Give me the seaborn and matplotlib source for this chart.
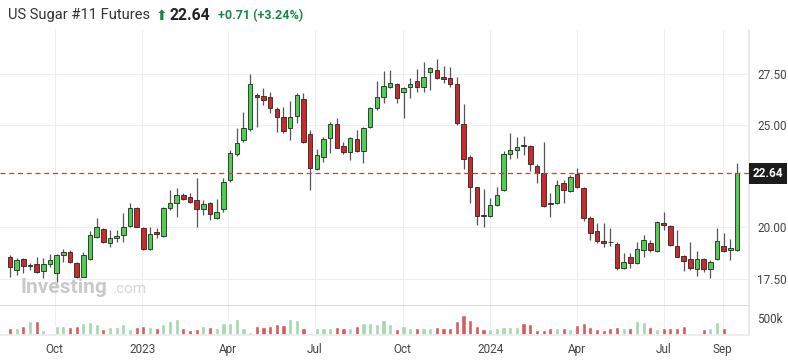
import matplotlib
matplotlib.use("Agg")
import matplotlib.pyplot as plt
import matplotlib.transforms as mtransforms
import seaborn as sns
import numpy as np
import pandas as pd

sns.set_theme(style="white")
plt.rcParams["font.family"] = ["Roboto", "DejaVu Sans"]

# weekly candles, US Sugar #11
first_week = "2022-08-15"
open_px = [18.54, 17.92, 18.45, 18.13, 18.20, 17.88, 18.20, 17.76, 18.64, 18.79,
           18.25, 17.60, 18.45, 19.52, 19.92, 19.23, 19.47, 19.63, 20.07, 20.93,
           19.96, 18.93, 19.79, 19.58, 20.96, 21.21, 21.58, 21.50, 21.34, 20.88,
           21.21, 20.48, 20.88, 22.31, 23.57, 24.27, 24.79, 26.46, 26.43, 26.35,
           25.76, 25.40, 24.84, 25.44, 26.27, 24.54, 22.84, 23.45, 24.35, 25.03,
           23.99, 23.67, 24.31, 23.73, 24.91, 25.84, 26.35, 26.87, 27.01, 26.59,
           26.84, 27.14, 26.87, 27.57, 27.68, 27.33, 27.28, 27.00, 25.05, 23.42,
           21.96, 20.58, 20.55, 21.09, 21.83, 23.58, 23.78, 24.00, 23.97, 22.99,
           22.67, 21.15, 21.18, 22.18, 21.79, 22.61, 21.91, 20.45, 19.84, 19.34,
           19.28, 19.18, 18.04, 18.57, 18.25, 18.90, 19.26, 18.87, 20.23, 20.09,
           19.09, 18.61, 18.46, 17.96, 18.46, 17.96, 18.46, 19.10, 18.90, 18.90]
high_px = [18.66, 18.50, 18.50, 18.28, 18.54, 18.52, 18.69, 18.70, 18.93, 18.90,
           18.33, 18.82, 19.83, 20.48, 19.99, 19.88, 19.88, 20.69, 21.18, 20.98,
           20.04, 20.04, 19.96, 21.01, 21.83, 21.91, 21.67, 21.67, 22.40, 21.34,
           21.26, 21.37, 22.40, 23.78, 24.84, 25.65, 27.49, 26.54, 26.79, 26.62,
           25.89, 25.89, 26.18, 26.54, 26.54, 24.75, 23.83, 24.43, 25.16, 25.35,
           24.15, 24.43, 24.75, 24.91, 25.89, 27.14, 27.63, 27.68, 27.03, 26.87,
           27.30, 27.73, 28.06, 27.84, 28.22, 27.88, 27.81, 27.32, 26.02, 23.53,
           21.99, 21.86, 21.42, 21.96, 23.74, 24.62, 24.43, 24.46, 24.02, 23.10,
           24.18, 21.67, 22.31, 22.31, 22.56, 22.88, 21.99, 20.55, 20.20, 20.20,
           19.96, 19.30, 18.74, 18.77, 19.30, 19.63, 19.39, 20.33, 20.77, 20.12,
           19.88, 18.66, 19.30, 18.87, 18.52, 18.41, 19.96, 19.71, 19.42, 23.13]
low_px = [17.60, 17.68, 17.76, 17.92, 17.79, 17.55, 18.09, 17.35, 18.33, 18.25,
          17.52, 17.57, 18.41, 19.47, 19.23, 19.06, 19.30, 19.30, 20.01, 20.00,
          18.90, 18.90, 19.47, 19.55, 20.85, 20.52, 21.34, 21.20, 20.04, 20.61,
          20.36, 20.40, 20.77, 22.23, 23.49, 24.18, 24.72, 24.91, 25.97, 25.57,
          24.67, 24.62, 24.27, 25.08, 24.10, 21.83, 22.80, 23.21, 23.62, 23.86,
          23.57, 23.29, 23.70, 23.13, 24.87, 25.73, 26.06, 26.79, 26.06, 25.32,
          26.30, 26.59, 26.59, 26.71, 27.24, 27.03, 26.87, 25.00, 22.84, 21.18,
          20.12, 20.01, 20.52, 21.06, 21.79, 23.32, 23.37, 23.53, 22.77, 22.15,
          21.01, 20.52, 21.14, 21.18, 21.74, 21.91, 20.33, 19.40, 19.23, 19.06,
          19.10, 17.92, 17.96, 18.01, 18.22, 18.57, 18.82, 18.82, 19.87, 19.09,
          18.54, 17.90, 17.92, 17.63, 17.84, 17.52, 18.41, 18.82, 18.41, 18.87]
close_px = [18.06, 18.41, 18.12, 18.14, 17.84, 18.20, 18.41, 18.64, 18.82, 18.33,
            17.57, 18.64, 19.62, 20.01, 19.28, 19.47, 19.58, 20.04, 20.93, 20.04,
            18.93, 19.70, 19.67, 20.96, 21.21, 21.58, 21.39, 21.26, 20.88, 21.14,
            20.64, 20.77, 22.23, 23.62, 24.10, 24.84, 27.00, 26.35, 26.22, 25.81,
            25.37, 24.72, 25.40, 26.46, 24.15, 22.89, 23.53, 24.31, 25.03, 23.89,
            23.67, 24.38, 23.73, 24.87, 25.84, 26.35, 26.91, 27.03, 26.30, 26.79,
            27.00, 26.87, 27.35, 27.79, 27.30, 27.23, 27.00, 25.11, 23.32, 21.96,
            20.57, 20.55, 21.09, 21.58, 23.58, 23.78, 23.91, 23.98, 23.10, 22.64,
            21.05, 21.14, 22.07, 21.83, 22.48, 21.96, 20.45, 19.74, 19.35, 19.23,
            19.27, 18.04, 18.33, 18.25, 18.93, 19.39, 18.90, 20.28, 20.12, 19.14,
            18.57, 18.38, 18.00, 18.45, 17.96, 18.33, 19.35, 18.87, 18.98, 22.64]
volume = [220, 220, 260, 415, 415, 135, 60, 270, 270, 240, 260, 345, 375, 310, 190,
          240, 240, 330, 190, 240, 260, 240, 220, 310, 415, 480, 220, 155, 190, 270,
          240, 210, 365, 365, 480, 210, 85, 270, 240, 260, 310, 290, 480, 450, 210,
          60, 210, 210, 220, 240, 220, 220, 260, 345, 345, 325, 450, 310, 190,
          270, 220, 210, 220, 220, 230, 220, 220, 415, 580, 450, 270, 190, 165, 210,
          240, 240, 240, 365, 310, 135, 155, 220, 220, 210, 165, 290, 345, 240, 190,
          135, 210, 240, 210, 220, 415, 395, 240, 190, 220, 220, 220, 270, 30, 10,
          190, 210, 395, 210, 50, 20]  # thousands

tick_dates = ["2022-10-01", "2023-01-01", "2023-04-01", "2023-07-01", "2023-10-01",
              "2024-01-01", "2024-04-01", "2024-07-01", "2024-09-01"]
tick_labels = ["Oct", "2023", "Apr", "Jul", "Oct", "2024", "Apr", "Jul", "Sep"]
price_ticks = [17.5, 20.0, 25.0, 27.5]
last_price = 22.64

o = np.array(open_px)
h = np.array(high_px)
l = np.array(low_px)
c = np.array(close_px)
n = len(c)
idx = np.arange(n)
up = c >= o
weeks = pd.date_range(first_week, periods=n, freq="7D")
tick_pos = [(pd.Timestamp(d) - weeks[0]).days / 7 for d in tick_dates]

W, H = 788, 362
fig = plt.figure(figsize=(W / 100, H / 100), dpi=100)

def fx(x):
    return x / W

def fy(y):
    return 1 - y / H

axp = fig.add_axes([0, fy(306), fx(749), (306 - 30) / H])
axv = fig.add_axes([0, fy(335), fx(749), (335 - 306) / H], sharex=axp)

green, red = "#4fcf4f", "#cc2a2a"
grid_c = "#efefef"

# candles
axp.vlines(idx, l, h, color="#555555", lw=0.9, zorder=2)
axp.bar(idx, np.maximum(np.abs(c - o), 0.04), bottom=np.minimum(o, c), width=0.68,
        color=np.where(up, green, red), edgecolor="#262626", linewidth=0.6, zorder=3)
axp.axhline(last_price, color="#9a5050", lw=0.9, ls=(0, (4, 3)), zorder=4)

# volume
vol_df = pd.DataFrame({"week": idx, "volume": np.array(volume) * 1000,
                       "dir": np.where(up, "up", "down")})
sns.barplot(data=vol_df, x="week", y="volume", hue="dir", native_scale=True,
            palette={"up": "#a6d8b0", "down": "#d65c5c"}, dodge=False, width=0.62,
            saturation=1, errorbar=None, legend=False, ax=axv)

for ax in (axp, axv):
    ax.set_xlim(-1.5, 110.8)
    ax.set_xlabel("")
    ax.set_ylabel("")
    ax.yaxis.tick_right()
    ax.tick_params(length=0, colors="#444444", labelsize=8.5)
    ax.grid(True, axis="x", color=grid_c, lw=0.8)
    ax.spines["top"].set_visible(False)
    ax.spines["left"].set_visible(False)
    ax.spines["right"].set_color("#e6e6e6")
    ax.set_axisbelow(True)

axp.set_ylim(16.17, 29.63)
axp.set_yticks(price_ticks, [f"{t:.2f}" for t in price_ticks])
axp.grid(True, axis="y", color=grid_c, lw=0.8)
axp.spines["bottom"].set_color("#d4d4d4")
axp.tick_params(labelbottom=False, pad=6)

axv.set_ylim(0, 853000)
axv.set_yticks([500000], ["500k"])
axv.spines["bottom"].set_color("#ececec")
axv.set_xticks(tick_pos, tick_labels)
axv.tick_params(axis="x", pad=6)
axv.tick_params(axis="y", pad=6)

# last price tag
trans = mtransforms.blended_transform_factory(axp.transAxes, axp.transData)
axp.text(1.005, last_price, f"{last_price:.2f}", transform=trans, ha="left", va="center",
         color="white", fontsize=8.5, fontweight="bold", clip_on=False,
         bbox=dict(boxstyle="square,pad=0.32", fc="#1c1c1c", ec="none"))

# watermark
fig.text(fx(21), fy(293), "Investing", fontsize=15, fontweight="bold", color="#c9c9c9",
         va="baseline", ha="left")
fig.text(fx(113), fy(293), ".com", fontsize=11, color="#d6d6d6", va="baseline", ha="left")

# header
fig.text(fx(8), fy(19.5), "US Sugar #11 Futures", fontsize=10.5, color="#333333",
         va="baseline", ha="left")
fig.text(fx(155.5), fy(19.5), "\u2B06", fontsize=10, color="#138a45", va="baseline",
         ha="left", family=["DejaVu Sans"])
fig.text(fx(169), fy(19.5), "22.64", fontsize=11.3, fontweight="bold", color="#222222",
         va="baseline", ha="left")
fig.text(fx(218), fy(19.5), "+0.71 (+3.24%)", fontsize=9, fontweight="bold",
         color="#168a47", va="baseline", ha="left")

fig.savefig("out.png", dpi=100)
